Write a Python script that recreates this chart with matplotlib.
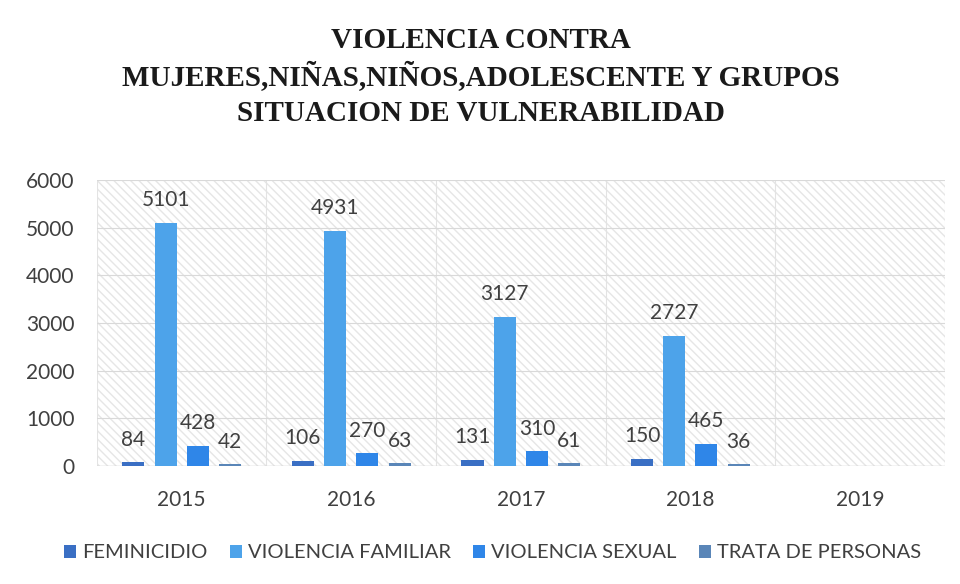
import matplotlib
matplotlib.use("Agg")
import matplotlib.pyplot as plt
import numpy as np
from matplotlib.patches import Rectangle

years = ["2015", "2016", "2017", "2018", "2019"]
series_names = ["FEMINICIDIO", "VIOLENCIA FAMILIAR", "VIOLENCIA SEXUAL", "TRATA DE PERSONAS"]
feminicidio = [84, 106, 131, 150, None]
violencia_familiar = [5101, 4931, 3127, 2727, None]
violencia_sexual = [428, 270, 310, 465, None]
trata = [42, 63, 61, 36, None]
colors = ["#3a6fc4", "#4da3ea", "#2f86e8", "#5a86b8"]
title_lines = ["VIOLENCIA CONTRA", "MUJERES,NIÑAS,NIÑOS,ADOLESCENTE Y GRUPOS", "SITUACION DE VULNERABILIDAD"]

plt.rcParams["font.family"] = ["Lato", "DejaVu Sans"]

fig = plt.figure(figsize=(9.6, 5.84), dpi=100)
ax = fig.add_axes([0.101, 0.202, 0.883, 0.490])

x = np.arange(len(years))
step = 0.19
width = 0.13
all_series = [feminicidio, violencia_familiar, violencia_sexual, trata]
for i, (name, vals, c) in enumerate(zip(series_names, all_series, colors)):
    xs = [xi + (i - 1.5) * step for xi, v in zip(x, vals) if v is not None]
    vs = [v for v in vals if v is not None]
    ax.bar(xs, vs, width=width, color=c, label=name, zorder=3)
    for xb, v in zip(xs, vs):
        ax.annotate(str(v), (xb, v), xytext=(0, 9), textcoords="offset points",
                    ha="center", va="bottom", fontsize=15, color="#404040", zorder=4)

ax.set_xlim(-0.5, len(years) - 0.5)
ax.set_ylim(0, 6000)
ax.set_yticks(np.arange(0, 6001, 1000))
ax.set_xticks(x)
ax.set_xticklabels(years)
ax.set_xticks(np.arange(-0.5, len(years), 1), minor=True)
ax.tick_params(axis="both", which="both", length=0, labelsize=15, colors="#404040")
ax.tick_params(axis="x", pad=17)
ax.tick_params(axis="y", pad=16)
ax.grid(axis="y", which="major", color="#d9d9d9", linewidth=0.8, zorder=1)
ax.grid(axis="x", which="minor", color="#e3e3e3", linewidth=0.8, zorder=1)
for s in ax.spines.values():
    s.set_visible(False)
ax.axhline(0, color="#d0d0d0", linewidth=1, zorder=2)

hatch = Rectangle((0, 0), 1, 1, transform=ax.transAxes, facecolor="none",
                  edgecolor="#e6e6e6", hatch="\\\\\\\\", linewidth=0, zorder=0)
ax.add_patch(hatch)

for yline, line in zip([1 - 41 / 584, 1 - 77 / 584, 1 - 113 / 584], title_lines):
    fig.text(0.501, yline, line, ha="center", va="center", fontsize=21, fontweight="bold",
             family="Liberation Serif", color="#1a1a1a")

ax.legend(loc="center", bbox_to_anchor=(0.467, (1 - 553 / 584 - 0.202) / 0.490), ncol=4, frameon=False,
          fontsize=14.5, handlelength=0.6, handleheight=0.6, handletextpad=0.3,
          columnspacing=1.1, labelcolor="#404040")

fig.savefig("out.png", dpi=100, facecolor="white")
